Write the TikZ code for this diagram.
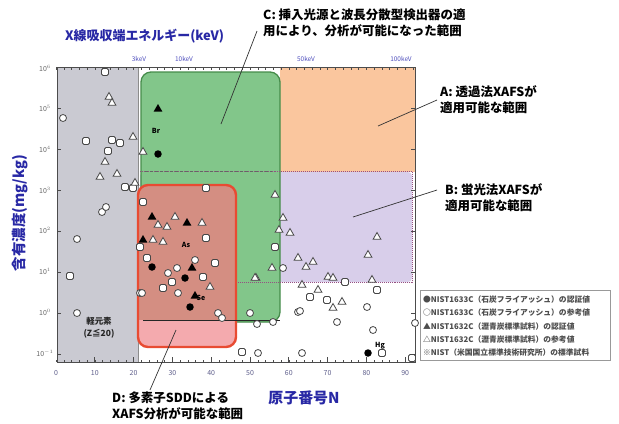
\documentclass[tikz,border=0pt]{standalone}
\usepackage{fontspec}
\setmainfont{Noto Sans CJK JP}
\usetikzlibrary{shapes.geometric}
\definecolor{tblue}{RGB}{40,40,165}
\definecolor{kblue}{RGB}{80,80,190}
\definecolor{tickc}{RGB}{95,95,140}
\definecolor{grayreg}{RGB}{202,202,210}
\definecolor{greenfill}{RGB}{130,198,138}
\definecolor{greenline}{RGB}{70,140,75}
\definecolor{orangefill}{RGB}{250,198,158}
\definecolor{purplefill}{RGB}{216,206,234}
\definecolor{purpleline}{RGB}{150,80,130}
\definecolor{redline}{RGB}{232,75,50}
\definecolor{pinkfill}{RGB}{244,170,174}
\definecolor{overlapfill}{RGB}{212,142,130}
\definecolor{ptline}{RGB}{70,70,70}
\begin{document}
\begin{tikzpicture}[x=1bp,y=-1bp,
  wc/.style={circle,draw=ptline,fill=white,line width=0.8pt,minimum size=7bp,inner sep=0pt},
  ws/.style={rectangle,rounded corners=1.5bp,draw=ptline,fill=white,line width=0.8pt,minimum size=7bp,inner sep=0pt},
  wt/.style={regular polygon,regular polygon sides=3,draw=ptline,fill=white,line width=0.8pt,minimum size=9bp,inner sep=0pt},
  bc/.style={circle,fill=black,minimum size=7.5bp,inner sep=0pt},
  bt/.style={regular polygon,regular polygon sides=3,fill=black,minimum size=10bp,inner sep=0pt},
  elab/.style={font=\bfseries\fontsize{7}{8}\selectfont,inner sep=0pt},
  callout/.style={font=\bfseries\fontsize{12.5}{16}\selectfont,align=left,inner sep=0pt,anchor=north west},
  cline/.style={draw=black!80,line width=0.7pt},
  axtitle/.style={font=\bfseries\fontsize{13}{16}\selectfont,text=tblue,inner sep=0pt},
  ylab/.style={font=\fontsize{7}{8}\selectfont,text=black!60,inner sep=0pt},
  xlab/.style={font=\fontsize{7}{8}\selectfont,text=tickc,inner sep=0pt},
  klab/.style={font=\fontsize{6.5}{7}\selectfont,text=kblue,inner sep=0pt},
  legtext/.style={font=\bfseries\fontsize{7.8}{8}\selectfont,text=black!70,inner sep=0pt,anchor=west}
]
\useasboundingbox (0,0) rectangle (619,423);
\fill[white] (0,0) rectangle (619,423);

% regions
\fill[grayreg] (57,67) rectangle (138,362);
\draw[black!45,line width=0.8pt] (138,67) -- (138,362);
\fill[orangefill] (280,67) rectangle (415,172);
\fill[purplefill,rounded corners=4bp] (140,172) rectangle (412,282);
\filldraw[fill=greenfill,draw=greenline,line width=1.3pt,rounded corners=10bp] (141,72) rectangle (280,322);
\draw[purpleline,densely dotted,line width=1pt] (140,171) -- (412,171) -- (412,282) -- (230,282);
\draw[black!60,densely dashed,line width=0.5pt] (145,171) -- (272,171);
% red region
\fill[pinkfill,rounded corners=10bp] (138,185) rectangle (236,347);
\begin{scope}
  \clip[rounded corners=10bp] (138,185) rectangle (236,347);
  \fill[overlapfill] (138,185) rectangle (236,320);
\end{scope}
\draw[redline,line width=2.4pt,rounded corners=10bp] (138,185) rectangle (236,347);
\draw[black!85,line width=0.9pt] (143,320) -- (280,320);

% frame
\draw[black!70,line width=0.8pt] (57,67) rectangle (415,362);
\foreach \k in {0,...,7} {
  \draw[black!70,line width=0.6pt] (57,{67+41*\k}) -- (61,{67+41*\k});
  \draw[black!70,line width=0.6pt] (415,{67+41*\k}) -- (411,{67+41*\k});
}
\foreach \z in {0,2,...,92} {
  \draw[black!70,line width=0.5pt] ({56+3.88*\z},362) -- ({56+3.88*\z},359.5);
  \draw[black!70,line width=0.5pt] ({56+3.88*\z},67) -- ({56+3.88*\z},69.5);
}
\foreach \z in {10,20,...,90} {
  \draw[black!70,line width=0.7pt] ({56+3.88*\z},362) -- ({56+3.88*\z},357);
}

% axis labels
\foreach [count=\i] \e in {6,5,4,3,2,1,0,-1} {
  \node[ylab] (yl\i) at (45,{68+40.7*(\i-1)}) {10$^{\e}$};
}
\foreach [count=\i] \z in {0,10,...,90} {
  \node[xlab] (xl\i) at ({56+3.88*\z},373) {\z};
}
\node[klab] (k3) at (139,59) {3keV};
\node[klab] (k10) at (184,59) {10keV};
\node[klab] (k50) at (306,59) {50keV};
\node[klab] (k100) at (401,59) {100keV};

% data points
\foreach [count=\i] \x/\y in {63/118,102/212,106/207,77/239,77/313,140/293,195/260,177/268,168/273,178/293,142/293,218/313,222/318,250/313,257/324,273/322,283/268,298/312,337/322,367/307,373/330,302/353,415/323,258/353,300/311}
  \node[wc] (c\i) at (\x,\y) {};
\foreach [count=\i] \x/\y in {105/72,86/141,112/140,120/143,108/151,125/187,133/188,143/202,70/276,206/188,206/238,140/247,147/258,215/263,172/282,203/277,163/288,275/247,345/282,377/290,310/297,327/300,382/353,242/352,412/358}
  \node[ws] (s\i) at (\x,\y) {};
\foreach [count=\i] \x/\y in {133/137,143/152,105/162,100/177,117/174,135/183,109/97,112/103,175/217,202/223,158/225,167/227,153/240,163/242,210/287,256/278,275/195,283/218,279/230,290/233,298/258,313/262,306/267,272/268,255/278,328/277,333/278,377/237,368/255,372/280,302/285,318/290,342/302,333/308}
  \node[wt] (t\i) at (\x,\y) {};
\foreach [count=\i] \x/\y in {158/154,152/267,185/278,190/307,368/353}
  \node[bc] (b\i) at (\x,\y) {};
\foreach [count=\i] \x/\y in {158/109,152/217,187/223,143/240,192/268,195/296}
  \node[bt] (bt\i) at (\x,\y) {};
\node[elab] (lBr) at (156,131) {Br};
\node[elab] (lAs) at (186,245) {As};
\node[elab] (lSe) at (201,298) {Se};
\node[elab] (lHg) at (380,346) {Hg};
\node[font=\bfseries\fontsize{8.5}{12}\selectfont,align=center,inner sep=0pt,text=black!85] (lgray) at (99,328) {軽元素\\(Z≦20)};

% axis titles
\node[axtitle,anchor=west] (xtitle) at (65,36) {X線吸収端エネルギー(keV)};
\node[axtitle,font=\bfseries\fontsize{15}{16}\selectfont] (ntitle) at (304,398) {原子番号N};
\node[axtitle,rotate=90,font=\bfseries\fontsize{14.5}{16}\selectfont] (ytitle) at (20,213) {含有濃度(mg/kg)};

% callouts
\node[callout] (tC) at (263,9) {C: 挿入光源と波長分散型検出器の適\\用により、分析が可能になった範囲};
\node[callout] (tA) at (440,85) {A: 透過法XAFSが\\適用可能な範囲};
\node[callout] (tB) at (445,183) {B: 蛍光法XAFSが\\適用可能な範囲};
\node[callout] (tD) at (112,392) {D: 多素子SDDによる\\XAFS分析が可能な範囲};
\coordinate (cC1) at (257,31);
\coordinate (cC2) at (221,124);
\coordinate (cA1) at (437,100);
\coordinate (cA2) at (378,126);
\coordinate (cB1) at (437,190);
\coordinate (cB2) at (353,217);
\coordinate (cD1) at (150,390);
\coordinate (cD2) at (176,330);
\draw[cline] (cC1) -- (cC2);
\draw[cline] (cA1) -- (cA2);
\draw[cline] (cB1) -- (cB2);
\draw[cline] (cD1) -- (cD2);

% legend
\node[draw=black!40,fill=white,line width=0.6pt,minimum width=190bp,minimum height=70bp,inner sep=0pt] (legend) at (515,325) {};
\node[legtext] (lg1) at (423,300) {●NIST1633C（石炭フライアッシュ）の認証値};
\node[legtext] (lg2) at (423,313) {○NIST1633C（石炭フライアッシュ）の参考値};
\node[legtext] (lg3) at (423,327) {▲NIST1632C（瀝青炭標準試料）の認証値};
\node[legtext] (lg4) at (423,340) {△NIST1632C（瀝青炭標準試料）の参考値};
\node[legtext] (lg5) at (423,353) {※NIST（米国国立標準技術研究所）の標準試料};
\end{tikzpicture}
\end{document}
